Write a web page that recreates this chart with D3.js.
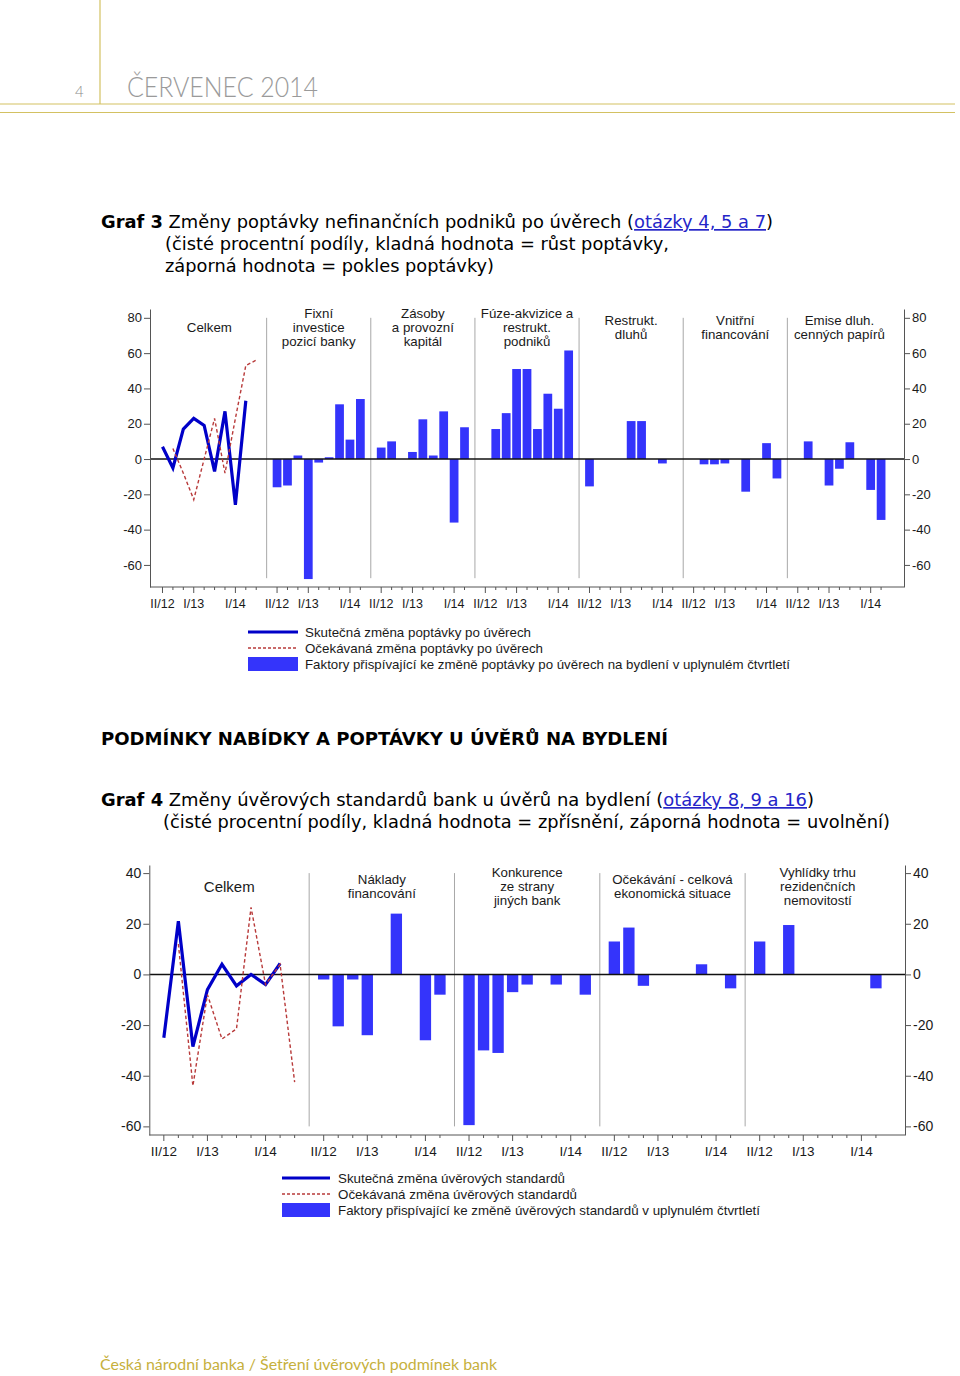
<!DOCTYPE html>
<html><head><meta charset="utf-8">
<script src="https://cdn.jsdelivr.net/npm/d3@7"></script>
<style>body{margin:0;background:#fff} svg{display:block}</style>
</head><body>
<svg id="page" width="960" height="1376"></svg>
<script>
// ---------------- DATA ----------------
const quarters = ["II/12","III/12","IV/12","I/13","II/13","III/13","IV/13","I/14","II/14","III/14"];
const tickLabels = ["II/12","I/13","I/14"];

// Graf 3
const g3Panels = [["Celkem"],["Fixní","investice","pozicí banky"],["Zásoby","a provozní","kapitál"],["Fúze-akvizice a","restrukt.","podniků"],["Restrukt.","dluhů"],["Vnitřní","financování"],["Emise dluh.","cenných papírů"]];
const g3Actual   = [7,-5,17,23,19,-7,27,-26,33];      // II/12 .. II/14
const g3Expected = [6,-8,-23,0,23,-8,23,53,56];       // III/12 .. III/14
const g3Fixni    = [-16,-15,2,-68,-2,1,31,11,34];
const g3Zasoby   = [6.5,10,0,4,22.5,2,27,-36,18];
const g3Fuze     = [0,17,26,51,51,17,37,28.5,61.5];
const g3Restrukt = [-15.5,0,0,0,21.5,21.5,0,-2.5,0];
const g3Vnitrni  = [0,-3,-3,-2.5,0,-18.5,0,9,-11];
const g3Emise    = [0,10,0,-15,-5.5,9.5,0,-17.5,-34.5];
const g3YTicks   = [80,60,40,20,0,-20,-40,-60];
const g3Legend   = ["Skutečná změna poptávky po úvěrech","Očekávaná změna poptávky po úvěrech","Faktory přispívající ke změně poptávky po úvěrech na bydlení v uplynulém čtvrtletí"];

// Graf 4
const g4Panels = [["Celkem"],["Náklady","financování"],["Konkurence","ze strany","jiných bank"],["Očekávání - celková","ekonomická situace"],["Vyhlídky trhu","rezidenčních","nemovitostí"]];
const g4Actual     = [-25,21,-28.5,-6,4,-4.5,0,-4,4.3];
const g4Expected   = [12,-44,-8,-25.5,-21.5,26.5,-4,4,-42.5];
const g4Naklady    = [-2,-20.5,-2,-24,0,24,0,-26,-8];
const g4Konkurence = [-59.5,-30,-31,-7,-4,0,-4,0,-8];
const g4Ocekavani  = [13,18.5,-4.5,0,0,0,4,0,-5.5];
const g4Vyhlidky   = [13,0,19.5,0,0,0,0,0,-5.5];
const g4YTicks     = [40,20,0,-20,-40,-60];
const g4Legend     = ["Skutečná změna úvěrových standardů","Očekávaná změna úvěrových standardů","Faktory přispívající ke změně úvěrových standardů v uplynulém čtvrtletí"];

// ---------------- STYLE ----------------
const GOLD = "#d3c162", GOLDTXT = "#c6b03c";
const BAR = "#3434fb", LINE = "#0000c8", RED = "#b83a3a";
const TXT = "#1a1a1a", AX = "#555";
const chartFont = "'Liberation Sans', Arial, sans-serif";
const titleFont = "'DejaVu Sans', Verdana, sans-serif";

const svg = d3.select("#page");

// ---------------- HEADER ----------------
svg.append("line").attr("x1",100).attr("x2",100).attr("y1",0).attr("y2",104).attr("stroke",GOLD).attr("stroke-width",1.2);
svg.append("line").attr("x1",0).attr("x2",955).attr("y1",104).attr("y2",104).attr("stroke",GOLD).attr("stroke-width",1.2);
svg.append("line").attr("x1",0).attr("x2",955).attr("y1",112.5).attr("y2",112.5).attr("stroke",GOLD).attr("stroke-width",1.2);
svg.append("text").attr("x",75).attr("y",97).attr("font-family","Lato, sans-serif").attr("font-weight",300)
   .attr("font-size",15).attr("fill","#8a8a8a").text("4");
svg.append("text").attr("x",127).attr("y",97).attr("font-family","Lato, sans-serif").attr("font-weight",300)
   .attr("font-size",27).attr("fill","#9a9a9a").attr("textLength",191).attr("lengthAdjust","spacingAndGlyphs").text("ČERVENEC 2014");

// ---------------- TITLES ----------------
function titleLine(x, y, width, parts) {
  const t = svg.append("text").attr("x",x).attr("y",y).attr("font-family",titleFont).attr("font-size",17).attr("fill","#000");
  parts.forEach(p => {
    const s = t.append("tspan").text(p.t);
    if (p.b) s.attr("font-weight","bold");
    if (p.link) s.attr("fill","#2525c8").attr("text-decoration","underline");
  });
  t.attr("textLength", width).attr("lengthAdjust","spacingAndGlyphs");
  return t;
}
titleLine(101, 228, 672, [{t:"Graf 3",b:1},{t:" Změny poptávky nefinančních podniků po úvěrech ("},{t:"otázky 4, 5 a 7",link:1},{t:")"}]);
titleLine(165, 250, 504, [{t:"(čisté procentní podíly, kladná hodnota = růst poptávky,"}]);
titleLine(165, 272, 329, [{t:"záporná hodnota = pokles poptávky)"}]);
titleLine(101, 745, 567, [{t:"PODMÍNKY NABÍDKY A POPTÁVKY U ÚVĚRŮ NA BYDLENÍ",b:1}]);
titleLine(101, 806, 713, [{t:"Graf 4",b:1},{t:" Změny úvěrových standardů bank u úvěrů na bydlení ("},{t:"otázky 8, 9 a 16",link:1},{t:")"}]);
titleLine(163, 828, 727, [{t:"(čisté procentní podíly, kladná hodnota = zpřísnění, záporná hodnota = uvolnění)"}]);

// footer
svg.append("text").attr("x",100).attr("y",1370).attr("font-family","Lato, sans-serif").attr("font-size",15.5)
   .attr("fill",GOLDTXT).attr("textLength",397).attr("lengthAdjust","spacingAndGlyphs")
   .text("Česká národní banka / Šetření úvěrových podmínek bank");

// ---------------- CHART ----------------
function drawChart(c) {
  const g = svg.append("g").attr("font-family",chartFont);
  const x = d3.scaleLinear().domain(c.xDomain).range([c.left, c.right]);
  const y = d3.scaleLinear().domain(c.yDomain).range([c.bottom, c.top]);
  const w = x(1) - x(0);
  const nP = c.panels.length;

  // separators
  for (let p = 1; p < nP; p++) {
    g.append("line").attr("x1",x(10*p)).attr("x2",x(10*p)).attr("y1",y(c.sepTop)).attr("y2",y(c.sepBottom))
      .attr("stroke","#a8a8a8").attr("stroke-width",1);
  }

  // bars
  c.bars.forEach((vals, b) => {
    const p = b + 1;
    g.append("g").selectAll("rect").data(vals.map((v,q)=>({v,q})).filter(d=>d.v!==0)).join("rect")
      .attr("x", d => x(10*p + 1 + d.q) - c.barW*w/2)
      .attr("width", c.barW*w)
      .attr("y", d => y(Math.max(0,d.v)))
      .attr("height", d => Math.abs(y(d.v)-y(0)))
      .attr("fill", BAR);
  });

  // zero line
  g.append("line").attr("x1",c.left).attr("x2",c.right).attr("y1",y(0)).attr("y2",y(0)).attr("stroke","#111").attr("stroke-width",1.5);

  // lines
  const ln = d3.line().x(d=>x(d.s)).y(d=>y(d.v));
  g.append("path").datum(c.actual.map((v,q)=>({s:q,v}))).attr("d",ln).attr("fill","none")
    .attr("stroke",LINE).attr("stroke-width",3.2).attr("stroke-linejoin","miter");
  g.append("path").datum(c.expected.map((v,q)=>({s:q+1,v}))).attr("d",ln).attr("fill","none")
    .attr("stroke",RED).attr("stroke-width",1.4).attr("stroke-dasharray","3.5,2.5");

  // axes
  const fmt = d => String(d);
  const yl = g.append("g").attr("transform",`translate(${c.left},0)`)
    .call(d3.axisLeft(y).tickValues(c.yTicks).tickSize(6).tickSizeOuter(0).tickPadding(2).tickFormat(fmt));
  const yr = g.append("g").attr("transform",`translate(${c.right},0)`)
    .call(d3.axisRight(y).tickValues(c.yTicks).tickSize(6).tickSizeOuter(0).tickPadding(2).tickFormat(fmt));
  [yl,yr].forEach(a => {
    a.attr("font-family",chartFont).attr("font-size",c.yFont);
    a.selectAll("path,line").attr("stroke",AX);
    a.selectAll("text").attr("fill",TXT);
  });
  g.append("line").attr("x1",c.left).attr("x2",c.right).attr("y1",c.bottom).attr("y2",c.bottom).attr("stroke",AX);

  // x ticks
  const ticks = [];
  for (let p = 0; p < nP; p++) {
    const n = p === 0 ? 10 : 9;
    for (let q = 0; q < n; q++) ticks.push({s: p===0 ? q : 10*p+1+q, lab: quarters[q]});
  }
  g.append("g").selectAll("line").data(ticks).join("line")
    .attr("x1",d=>x(d.s)).attr("x2",d=>x(d.s)).attr("y1",c.bottom)
    .attr("y2",d=>c.bottom + (tickLabels.includes(d.lab)?6:3)).attr("stroke",AX);
  g.append("g").selectAll("text").data(ticks.filter(d=>tickLabels.includes(d.lab))).join("text")
    .attr("x",d=>x(d.s)).attr("y",c.bottom + c.xLabDy).attr("text-anchor","middle")
    .attr("font-size",c.xFont).attr("fill",TXT).text(d=>d.lab);

  // panel titles
  c.panels.forEach((lines, p) => {
    const cx = p === 0 ? x(4.5) : x(10*p+5);
    const fs = (p === 0 && c.firstTitleFont) ? c.firstTitleFont : c.titleFont;
    lines.forEach((l,i) => {
      g.append("text").attr("x",cx).attr("y", c.titleCy + (i-(lines.length-1)/2)*14 + fs*0.37)
        .attr("text-anchor","middle").attr("font-size",fs).attr("fill",TXT).text(l);
    });
  });

  // legend
  const L = c.legend;
  const lg = g.append("g");
  lg.append("line").attr("x1",L.x0).attr("x2",L.x1).attr("y1",L.y0).attr("y2",L.y0).attr("stroke",LINE).attr("stroke-width",3);
  lg.append("line").attr("x1",L.x0).attr("x2",L.x1).attr("y1",L.y0+16).attr("y2",L.y0+16).attr("stroke",RED).attr("stroke-width",1.3).attr("stroke-dasharray","3,2");
  lg.append("rect").attr("x",L.x0).attr("width",L.x1-L.x0).attr("y",L.y0+25).attr("height",14).attr("fill",BAR);
  c.legendText.forEach((t,i) => {
    lg.append("text").attr("x",L.tx).attr("y",L.y0+5+16*i).attr("font-size",13.5).attr("fill",TXT)
      .attr("textLength", L.widths[i]).attr("lengthAdjust","spacingAndGlyphs").text(t);
  });
}

drawChart({
  panels: g3Panels, actual: g3Actual, expected: g3Expected,
  bars: [g3Fixni,g3Zasoby,g3Fuze,g3Restrukt,g3Vnitrni,g3Emise],
  yTicks: g3YTicks, xDomain: [-1.2, 71.2], yDomain: [-72.5, 85],
  left: 150, right: 904, top: 309, bottom: 587,
  sepTop: 80, sepBottom: -67.5, barW: 0.84,
  yFont: 13, xFont: 12.5, xLabDy: 21, titleFont: 13.3, titleCy: 327.5,
  legend: {x0: 248, x1: 298, tx: 305, y0: 632, widths: [226, 238, 485]}, legendText: g3Legend
});

drawChart({
  panels: g4Panels, actual: g4Actual, expected: g4Expected,
  bars: [g4Naklady,g4Konkurence,g4Ocekavani,g4Vyhlidky],
  yTicks: g4YTicks, xDomain: [-1, 51], yDomain: [-63.4, 43.2],
  left: 149.3, right: 905, top: 865, bottom: 1135,
  sepTop: 40, sepBottom: -60, barW: 0.78,
  yFont: 14, xFont: 13.5, xLabDy: 21, titleFont: 13.3, firstTitleFont: 15, titleCy: 886.5,
  legend: {x0: 282, x1: 330, tx: 338, y0: 1178, widths: [227, 239, 422]}, legendText: g4Legend
});
</script>
</body></html>
